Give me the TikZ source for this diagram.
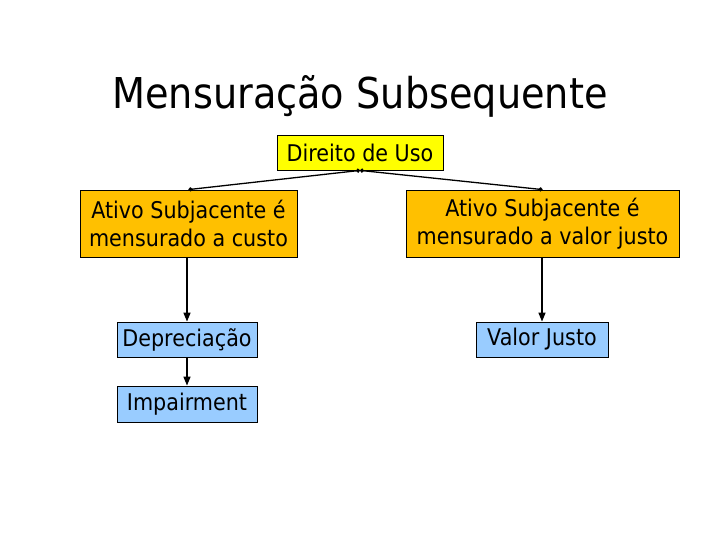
\documentclass[tikz,border=0pt]{standalone}
\usepackage{fontspec}
\setmainfont{DejaVu Sans}[FakeStretch=0.9]
\usetikzlibrary{arrows.meta}
\definecolor{ylw}{HTML}{FFFF00}
\definecolor{org}{HTML}{FFC000}
\definecolor{lblue}{HTML}{99CCFF}
\tikzset{
  box/.style={draw=black, line width=0.8pt, inner sep=0pt, align=center,
    font=\fontsize{23}{28}\selectfont, text=black},
  topbox/.style={box, fill=ylw},
  midbox/.style={box, fill=org},
  lowbox/.style={box, fill=lblue},
  link/.style={line width=1.3pt, {Circle[length=4pt]}-{Circle[length=4pt]}},
  arr/.style={line width=1.5pt, -{Triangle[length=9pt,width=7pt]}}
}
\begin{document}
\begin{tikzpicture}[x=1pt,y=-1pt]
\useasboundingbox (0,0) rectangle (720,540);
\node[font=\fontsize{42.5}{48}\selectfont] (title) at (360,96) {Mensuração Subsequente};
\node[topbox, minimum width=166pt, minimum height=35pt] (dir) at (360,152.5) {Direito de Uso};
\node[midbox, minimum width=217pt, minimum height=67pt] (left) at (188.5,223.5) {Ativo Subjacente é\\mensurado a custo};
\node[midbox, minimum width=273pt, minimum height=67pt] (right) at (542.5,223.5) {Ativo Subjacente é\\mensurado a valor justo};
\node[lowbox, minimum width=140pt, minimum height=35pt] (dep) at (187,339.5) {Depreciação};
\node[lowbox, minimum width=140pt, minimum height=36pt] (imp) at (187,404) {Impairment};
\node[lowbox, minimum width=132pt, minimum height=35pt] (vj) at (542,339.5) {Valor Justo};
\draw[link] (dir.south) -- (left.north);
\draw[link] (dir.south) -- (right.north);
\draw[arr] (left.south -| dep.north) -- (dep.north);
\draw[arr] (dep.south) -- (imp.north);
\draw[arr] (right.south -| vj.north) -- (vj.north);
\end{tikzpicture}
\end{document}
